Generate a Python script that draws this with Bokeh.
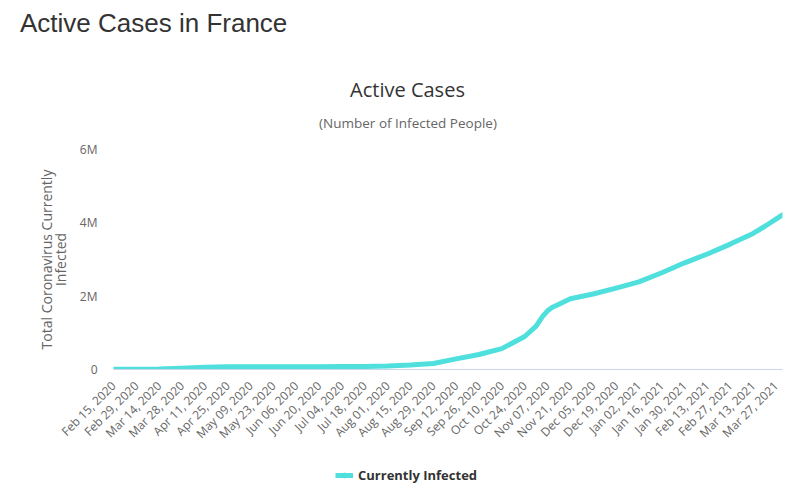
import pandas as pd
from math import pi
from bokeh.plotting import figure
from bokeh.layouts import column
from bokeh.models import (FixedTicker, Legend, LegendItem, Range1d, Label, Div,
                          ColumnDataSource)
from bokeh.embed import file_html
from bokeh.resources import INLINE

# ---------------- data ----------------
START_DATE = "2020-02-15"
END_DATE = "2021-03-31"

dates = [
    "2020-02-15", "2020-02-29", "2020-03-14", "2020-03-28", "2020-04-11",
    "2020-04-25", "2020-05-09", "2020-05-23", "2020-06-06", "2020-06-20",
    "2020-07-04", "2020-07-18", "2020-08-01", "2020-08-15", "2020-08-29",
    "2020-09-12", "2020-09-26", "2020-10-10", "2020-10-24", "2020-10-31",
    "2020-11-04", "2020-11-07", "2020-11-10", "2020-11-14", "2020-11-21",
    "2020-12-05", "2020-12-19", "2021-01-02", "2021-01-16", "2021-01-30",
    "2021-02-13", "2021-02-27", "2021-03-13", "2021-03-20", "2021-03-27",
    "2021-03-31",
]
active_cases_millions = [
    0.005, 0.006, 0.012, 0.035, 0.062,
    0.075, 0.078, 0.078, 0.078, 0.078,
    0.080, 0.085, 0.095, 0.120, 0.165,
    0.290, 0.410, 0.570, 0.900, 1.180,
    1.450, 1.600, 1.700, 1.780, 1.930,
    2.060, 2.220, 2.390, 2.640, 2.910,
    3.150, 3.420, 3.710, 3.900, 4.100,
    4.220,
]

tick_labels = [
    "Feb 15, 2020", "Feb 29, 2020", "Mar 14, 2020", "Mar 28, 2020",
    "Apr 11, 2020", "Apr 25, 2020", "May 09, 2020", "May 23, 2020",
    "Jun 06, 2020", "Jun 20, 2020", "Jul 04, 2020", "Jul 18, 2020",
    "Aug 01, 2020", "Aug 15, 2020", "Aug 29, 2020", "Sep 12, 2020",
    "Sep 26, 2020", "Oct 10, 2020", "Oct 24, 2020", "Nov 07, 2020",
    "Nov 21, 2020", "Dec 05, 2020", "Dec 19, 2020", "Jan 02, 2021",
    "Jan 16, 2021", "Jan 30, 2021", "Feb 13, 2021", "Feb 27, 2021",
    "Mar 13, 2021", "Mar 27, 2021",
]

y_ticks = [0, 2_000_000, 4_000_000, 6_000_000]
y_tick_labels = ["0", "2M", "4M", "6M"]

series_name = "Currently Infected"
page_title = "Active Cases in France"
chart_title = "Active Cases"
chart_subtitle = "(Number of Infected People)"
y_title = "Total Coronavirus Currently\nInfected"

# ---------------- derived ----------------
start = pd.Timestamp(START_DATE)
day_index = [(pd.Timestamp(d) - start).days for d in dates]
values = [v * 1_000_000 for v in active_cases_millions]
tick_pos = [(pd.to_datetime(t, format="%b %d, %Y") - start).days for t in tick_labels]
last_day = (pd.Timestamp(END_DATE) - start).days

src = ColumnDataSource(dict(x=day_index, y=values))

FONT = "Open Sans"
LINE_COLOR = "#4fdfdc"
BORDER_L, FRAME_W, BORDER_R = 113, 669, 18
HEADING_H = 60
HEADER_BOTTOM = 139     # page y where the chart figure starts
CHART_TOP_PAD = 10      # room above the frame for the "6M" label


def bare(fig):
    fig.grid.visible = False
    fig.outline_line_color = None
    fig.background_fill_color = "white"
    fig.border_fill_color = "white"


# ---------------- page heading ----------------
heading = Div(
    text=('<div style="margin:0;padding:9.5px 0 0 20px;'
          "font-family:'Liberation Sans',Arial,sans-serif;font-size:26px;"
          'line-height:26px;color:#333333;white-space:nowrap;">'
          f"{page_title}</div>"),
    width=BORDER_L + FRAME_W + BORDER_R, height=HEADING_H, margin=(0, 0, 0, 0))

# ---------------- chart title + subtitle (ranges in page pixels) ----------------
hdr = figure(title=None, frame_width=FRAME_W, frame_height=HEADER_BOTTOM - HEADING_H,
             output_backend="svg", toolbar_location=None,
             x_range=Range1d(BORDER_L, BORDER_L + FRAME_W),
             y_range=Range1d(HEADER_BOTTOM, HEADING_H),
             x_axis_location=None, y_axis_location=None,
             min_border_left=BORDER_L, min_border_right=BORDER_R,
             min_border_top=0, min_border_bottom=0)
bare(hdr)
hdr.add_layout(Label(x=407, y=89, text=chart_title,
                     text_font=FONT, text_font_size="20px",
                     text_color="#333333", text_align="center",
                     text_baseline="alphabetic"))
hdr.add_layout(Label(x=407.5, y=122.5, text=chart_subtitle,
                     text_font=FONT, text_font_size="13.5px",
                     text_color="#666666", text_align="center",
                     text_baseline="alphabetic"))

# ---------------- main chart ----------------
p = figure(title=None, frame_width=FRAME_W, frame_height=220, output_backend="svg",
           toolbar_location=None,
           x_range=Range1d(0, last_day), y_range=Range1d(0, 6_000_000),
           min_border_left=BORDER_L, min_border_right=BORDER_R,
           min_border_top=CHART_TOP_PAD, min_border_bottom=91)
bare(p)

p.line("x", "y", source=src, line_width=5, line_color=LINE_COLOR,
       line_join="round", line_cap="round")

# x axis
xa = p.xaxis[0]
xa.ticker = FixedTicker(ticks=tick_pos)
xa.major_label_overrides = {tp: lbl for tp, lbl in zip(tick_pos, tick_labels)}
xa.major_label_orientation = pi / 4
xa.major_label_text_font = FONT
xa.major_label_text_font_size = "12px"
xa.major_label_text_color = "#666666"
xa.axis_line_color = "#ccd6eb"
xa.major_tick_line_color = None
xa.minor_tick_line_color = None
xa.major_tick_out = 0
xa.major_tick_in = 0
xa.major_label_standoff = 14

# y axis
ya = p.yaxis[0]
ya.ticker = FixedTicker(ticks=y_ticks)
ya.major_label_overrides = {t: l for t, l in zip(y_ticks, y_tick_labels)}
ya.major_label_text_font = FONT
ya.major_label_text_font_size = "12px"
ya.major_label_text_color = "#666666"
ya.axis_line_color = None
ya.major_tick_line_color = None
ya.minor_tick_line_color = None
ya.major_tick_out = 0
ya.major_tick_in = 0
ya.major_label_standoff = 16
ya.axis_label = y_title
ya.axis_label_text_font = FONT
ya.axis_label_text_font_size = "14px"
ya.axis_label_text_font_style = "normal"
ya.axis_label_text_color = "#666666"
ya.axis_label_text_line_height = 0.75
ya.axis_label_standoff = 7

p.xgrid.grid_line_color = None
p.ygrid.grid_line_color = "#e6e6e6"
p.ygrid.grid_line_width = 1

# ---------------- legend strip ----------------
# the same series is plotted here on a range that keeps it out of view, so that
# the legend key (line + marker) is drawn from real renderers
foot = figure(title=None, frame_width=FRAME_W, frame_height=30,
              output_backend="svg", toolbar_location=None,
              x_range=Range1d(0, last_day), y_range=Range1d(-2e7, -1e7),
              x_axis_location=None, y_axis_location=None,
              min_border_left=BORDER_L, min_border_right=BORDER_R,
              min_border_top=0, min_border_bottom=0)
bare(foot)
key_line = foot.line("x", "y", source=src, line_width=5, line_color=LINE_COLOR)
key_marker = foot.scatter("x", "y", source=src, size=9, marker="circle",
                          fill_color=LINE_COLOR, line_color=LINE_COLOR)
legend = Legend(items=[LegendItem(label=series_name,
                                  renderers=[key_line, key_marker])],
                location="left", orientation="horizontal",
                border_line_color=None, background_fill_alpha=0,
                label_text_font=FONT, label_text_font_size="13px",
                label_text_font_style="bold", label_text_color="#333333",
                glyph_width=18, glyph_height=12, padding=0, margin=222,
                label_standoff=5)
foot.add_layout(legend, "center")

layout = column(heading, hdr, p, foot, spacing=0)
open("out.html", "w").write(file_html(layout, INLINE))
